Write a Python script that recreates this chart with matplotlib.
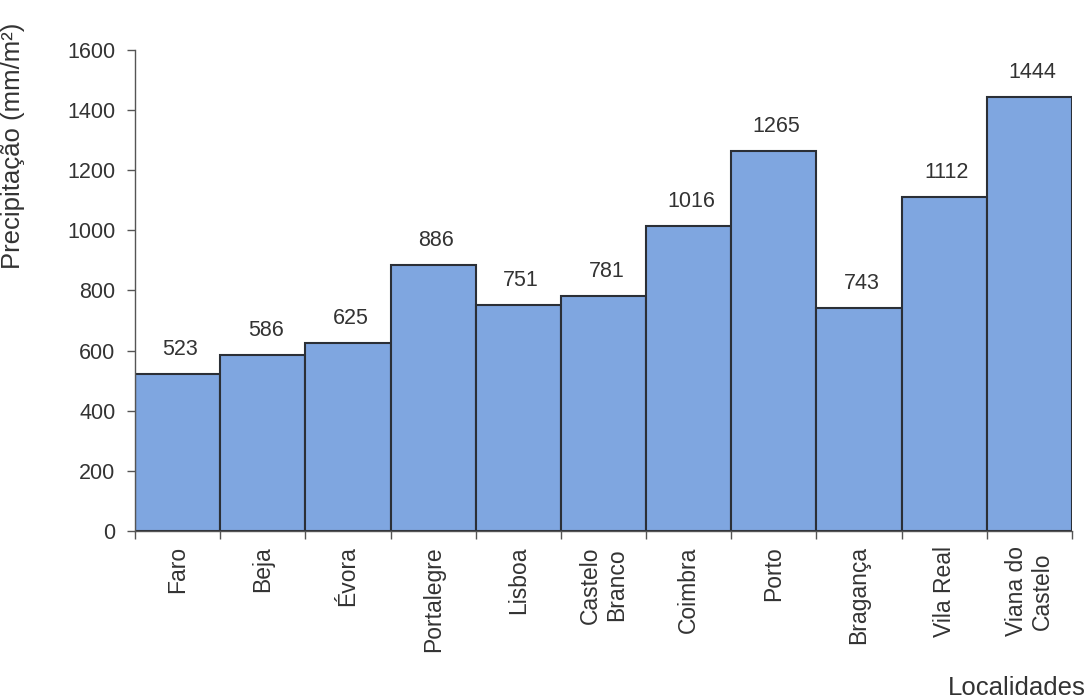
import numpy as np
import matplotlib
matplotlib.use("Agg")
import matplotlib.pyplot as plt

# localidades e precipitação média anual (mm/m²)
localidades = ["Faro", "Beja", "Évora", "Portalegre", "Lisboa", "Castelo\nBranco",
               "Coimbra", "Porto", "Bragança", "Vila Real", "Viana do\nCastelo"]
precipitacao = [523, 586, 625, 886, 751, 781, 1016, 1265, 743, 1112, 1444]
yticks = [0, 200, 400, 600, 800, 1000, 1200, 1400, 1600]

plt.rcParams['font.family'] = ['Liberation Sans', 'DejaVu Sans']
txt = '#333333'

fig = plt.figure(figsize=(10.9, 6.98), dpi=100)
ax = fig.add_axes([0.1239, 0.2393, 0.8596, 0.6891])

x = np.arange(len(localidades))
bars = ax.bar(x, precipitacao, width=1.0, color='#7fa6e0',
              edgecolor='#2b2f36', linewidth=1.5)

for b, v in zip(bars, precipitacao):
    ax.annotate(str(v), (b.get_x() + b.get_width() / 2, v),
                xytext=(2, 10), textcoords='offset points',
                ha='center', va='bottom', fontsize=15.5, color=txt)

ax.set_xlim(-0.5, len(localidades) - 0.5)
ax.set_ylim(0, 1600)
ax.set_yticks(yticks)
ax.tick_params(axis='y', labelsize=15.5, labelcolor=txt, color='#555555',
               length=6, width=1, pad=8)

# rótulos no centro, marcas nos limites das barras
ax.set_xticks(x)
ax.set_xticklabels(localidades, rotation=90, fontsize=16.5, color=txt,
                   va='top', ha='center', multialignment='center')
ax.tick_params(axis='x', which='major', length=0, pad=11)
ax.set_xticks(np.arange(len(localidades) + 1) - 0.5, minor=True)
ax.tick_params(axis='x', which='minor', length=6, width=1, color='#555555')

for s in ['top', 'right']:
    ax.spines[s].set_visible(False)
for s in ['left', 'bottom']:
    ax.spines[s].set_color('#555555')
    ax.spines[s].set_linewidth(1)

ax.set_ylabel("Precipitação (mm/m²)", fontsize=18.5, color=txt)
ax.yaxis.set_label_coords(-0.117, 0.80)

fig.text(1017 / 1090, 1 - 688 / 698, "Localidades", fontsize=18.5, color=txt,
         ha='center', va='center')

fig.savefig("out.png", dpi=100)
